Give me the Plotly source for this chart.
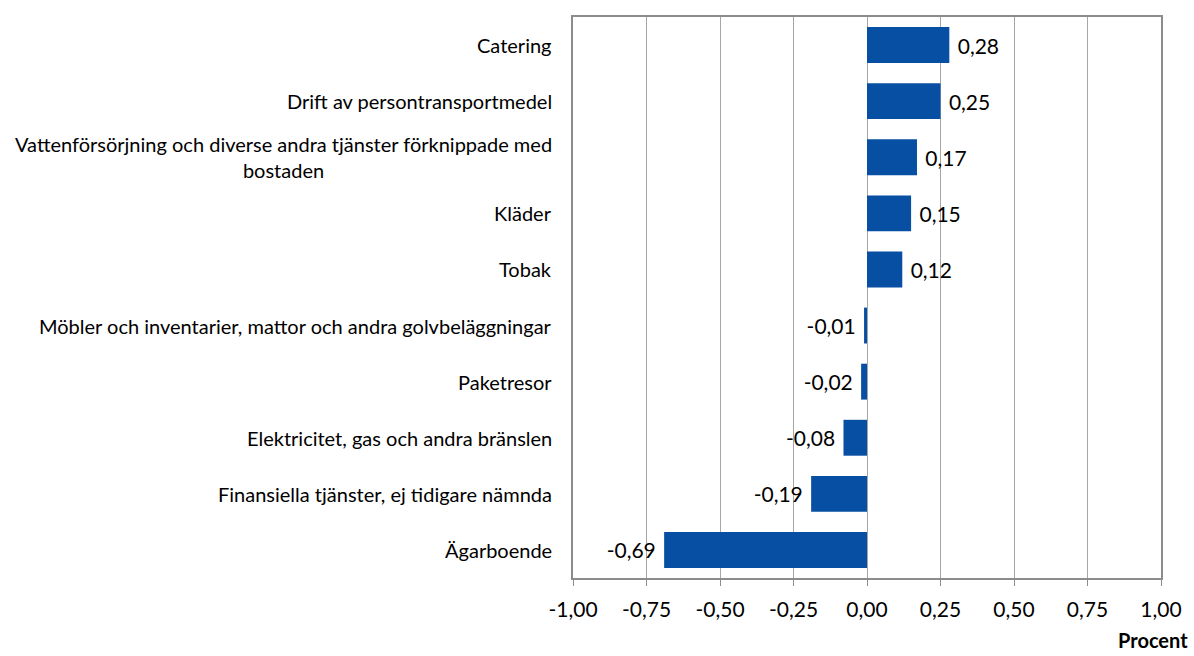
import plotly.graph_objects as go

categories = [
    "Catering",
    "Drift av persontransportmedel",
    "Vattenförsörjning och diverse andra tjänster förknippade med<br>bostaden",
    "Kläder",
    "Tobak",
    "Möbler och inventarier, mattor och andra golvbeläggningar",
    "Paketresor",
    "Elektricitet, gas och andra bränslen",
    "Finansiella tjänster, ej tidigare nämnda",
    "Ägarboende",
]
values = [0.28, 0.25, 0.17, 0.15, 0.12, -0.01, -0.02, -0.08, -0.19, -0.69]
tick_vals = [-1.0, -0.75, -0.5, -0.25, 0.0, 0.25, 0.5, 0.75, 1.0]
tick_text = ["-1,00", "-0,75", "-0,50", "-0,25", "0,00", "0,25", "0,50", "0,75", "1,00"]

value_text = [
    (" " + f"{v:.2f}".replace(".", ",")) if v >= 0 else (f"{v:.2f}".replace(".", ",") + " ")
    for v in values
]

FONT = "Lato"
GRID = "#A6A6A6"

fig = go.Figure()
fig.add_trace(go.Bar(
    y=categories,
    x=values,
    orientation="h",
    marker=dict(color="#064FA3", line=dict(width=0)),
    text=value_text,
    textposition="outside",
    textfont=dict(family=FONT, size=21, color="#000000"),
    cliponaxis=False,
    hoverinfo="skip",
))

for c in categories:
    fig.add_annotation(
        x=0, xref="paper", xshift=-19, xanchor="right",
        y=c, yref="y",
        text=c, showarrow=False, align="center",
        font=dict(family=FONT, size=20, color="#000000"),
    )

fig.add_annotation(
    x=1, xref="paper", xshift=29, xanchor="right",
    y=0, yref="paper", yshift=-76, yanchor="bottom",
    text="<b>Procent</b>", showarrow=False,
    font=dict(family=FONT, size=20, color="#000000"),
)

fig.update_layout(
    width=1194, height=656,
    paper_bgcolor="white", plot_bgcolor="white",
    margin=dict(l=573, r=31, t=17, b=78),
    bargap=0.36,
    showlegend=False,
    xaxis=dict(
        range=[-1, 1],
        tickvals=tick_vals, ticktext=tick_text,
        tickfont=dict(family=FONT, size=21, color="#000000"),
        showgrid=True, gridcolor=GRID, gridwidth=1,
        zeroline=False,
        showline=True, linecolor="#8C8C8C", linewidth=1.5, mirror=True,
        ticks="outside", ticklen=6, tickcolor="#8C8C8C",
        ticklabelstandoff=6,
    ),
    yaxis=dict(
        categoryorder="array", categoryarray=categories[::-1],
        showticklabels=False, showgrid=False, zeroline=False,
        showline=True, linecolor="#8C8C8C", linewidth=1.5, mirror=True,
        ticks="",
    ),
)

fig.write_html("out.html", config={"displayModeBar": False},
               post_script="document.body.style.margin='0';")
